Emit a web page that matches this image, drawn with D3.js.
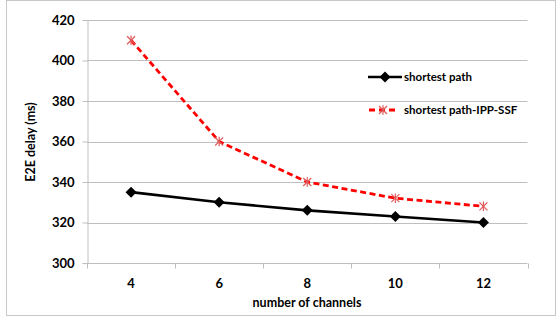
<!DOCTYPE html>
<html>
<head>
<meta charset="utf-8">
<script src="https://cdn.jsdelivr.net/npm/d3@7"></script>
<style>
  html, body { margin: 0; padding: 0; background: #fff; }
  svg { display: block; }
  text { font-family: Lato, "Open Sans", sans-serif; font-weight: bold; fill: #000; }
</style>
</head>
<body>
<svg id="chart" width="557" height="320"></svg>
<script>
// Channel counts on the x axis
const channels = ["4", "6", "8", "10", "12"];
// End-to-end delay (ms) for each routing scheme
const shortestPath = [335, 330, 326, 323, 320];
const shortestPathIppSsf = [410, 360, 340, 332, 328];
// Y axis ticks
const yTicks = [300, 320, 340, 360, 380, 400, 420];
const seriesNames = ["shortest path", "shortest path-IPP-SSF"];

const svg = d3.select("#chart");
const margin = { left: 87, right: 29.5, top: 20, bottom: 57 };
const W = 557, H = 320;

// Outer frame
svg.append("rect")
  .attr("x", 6.5).attr("y", 0.5)
  .attr("width", 549).attr("height", 315)
  .attr("fill", "#fff").attr("stroke", "#c8c8c8").attr("stroke-width", 1);

const x = d3.scaleBand().domain(channels).range([margin.left, W - margin.right]);
const y = d3.scaleLinear().domain([300, 420]).range([H - margin.bottom, margin.top]);

// Horizontal gridlines
svg.append("g").selectAll("line").data(yTicks.filter(t => t > 300)).join("line")
  .attr("x1", margin.left).attr("x2", W - margin.right)
  .attr("y1", d => Math.round(y(d)) + 0.5).attr("y2", d => Math.round(y(d)) + 0.5)
  .attr("stroke", "#bfbfbf").attr("stroke-width", 1);

// Y axis
const yAxis = svg.append("g")
  .attr("transform", `translate(${margin.left + 0.5},0)`)
  .call(d3.axisLeft(y).tickValues(yTicks).tickSize(5).tickPadding(8));
yAxis.select(".domain").attr("stroke", "#bfbfbf");
yAxis.selectAll(".tick line").attr("stroke", "#bfbfbf");
yAxis.selectAll(".tick text").style("font-size", "13px").attr("fill", "#000");

// X axis with tick marks at category boundaries
const xAxisY = Math.round(y(300)) + 0.5;
const xg = svg.append("g");
xg.append("line")
  .attr("x1", margin.left).attr("x2", W - margin.right)
  .attr("y1", xAxisY).attr("y2", xAxisY)
  .attr("stroke", "#bfbfbf");
const bounds = channels.map(c => x(c)).concat([x(channels[channels.length - 1]) + x.bandwidth()]);
xg.selectAll("line.tk").data(bounds).join("line").attr("class", "tk")
  .attr("x1", d => Math.round(d) + 0.5).attr("x2", d => Math.round(d) + 0.5)
  .attr("y1", xAxisY).attr("y2", xAxisY + 5)
  .attr("stroke", "#bfbfbf");
xg.selectAll("text").data(channels).join("text")
  .attr("x", d => x(d) + x.bandwidth() / 2)
  .attr("y", 287.5)
  .attr("text-anchor", "middle")
  .style("font-size", "13px")
  .text(d => d);

// Axis titles
svg.append("text")
  .attr("x", 307)
  .attr("y", 307)
  .attr("text-anchor", "middle")
  .style("font-size", "12.5px")
  .text("number of channels");
svg.append("text")
  .attr("transform", `translate(35,142) rotate(-90)`)
  .attr("text-anchor", "middle")
  .style("font-size", "12.5px")
  .text("E2E delay (ms)");

const cx = (d, i) => x(channels[i]) + x.bandwidth() / 2;
const line = d3.line().x(cx).y(d => y(d));

// Square diamond marker
const diamond = "M0,-5.5L5.5,0L0,5.5L-5.5,0Z";

// Shortest path series: solid black with diamonds
svg.append("path").datum(shortestPath)
  .attr("d", line).attr("fill", "none")
  .attr("stroke", "#000").attr("stroke-width", 2.6);
svg.append("g").selectAll("path").data(shortestPath).join("path")
  .attr("transform", (d, i) => `translate(${cx(d, i)},${y(d)})`)
  .attr("d", diamond).attr("fill", "#000");

// IPP-SSF series: dashed red with asterisk markers
svg.append("path").datum(shortestPathIppSsf)
  .attr("d", line).attr("fill", "none")
  .attr("stroke", "#ff0000").attr("stroke-width", 2.8)
  .attr("stroke-dasharray", "6,3.5");

function asterisk(g, px, py, r) {
  const a = g.append("g").attr("transform", `translate(${px},${py})`)
    .attr("stroke", "#e05a5a").attr("stroke-width", 1.2);
  a.append("line").attr("x1", -r).attr("y1", -r).attr("x2", r).attr("y2", r);
  a.append("line").attr("x1", -r).attr("y1", r).attr("x2", r).attr("y2", -r);
  a.append("line").attr("x1", 0).attr("y1", -r * 1.2).attr("x2", 0).attr("y2", r * 1.2);
}
const marks = svg.append("g");
shortestPathIppSsf.forEach((d, i) => asterisk(marks, cx(d, i), y(d), 4));

// Legend
const lg = svg.append("g");
lg.append("line").attr("x1", 368).attr("x2", 402).attr("y1", 77).attr("y2", 77)
  .attr("stroke", "#000").attr("stroke-width", 2.6);
lg.append("path").attr("transform", "translate(385,77)").attr("d", diamond).attr("fill", "#000");
lg.append("text").attr("x", 404).attr("y", 81).style("font-size", "11.5px").text(seriesNames[0]);

lg.append("line").attr("x1", 369).attr("x2", 397).attr("y1", 110).attr("y2", 110)
  .attr("stroke", "#ff0000").attr("stroke-width", 2.8).attr("stroke-dasharray", "6,4");
asterisk(lg, 383, 110, 4);
lg.append("text").attr("x", 404).attr("y", 114).style("font-size", "11.5px").text(seriesNames[1]);
</script>
</body>
</html>
